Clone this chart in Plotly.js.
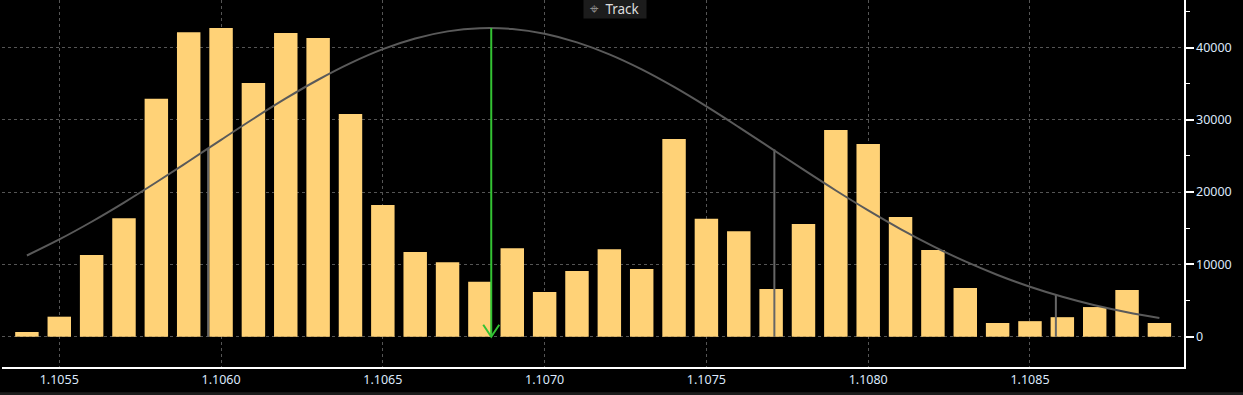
<!DOCTYPE html>
<html>
<head>
<meta charset="utf-8">
<script src="https://cdn.plot.ly/plotly-3.0.1.min.js"></script>
<style>
html,body{margin:0;padding:0;background:#000;}
#chart{width:1243px;height:395px;}
</style>
</head>
<body>
<div id="chart"></div>
<script>
// Price bins (centres) and counts
var binPrices = [1.1054,1.1055,1.1056,1.1057,1.1058,1.1059,1.1060,1.1061,1.1062,1.1063,1.1064,1.1065,1.1066,1.1067,1.1068,1.1069,1.1070,1.1071,1.1072,1.1073,1.1074,1.1075,1.1076,1.1077,1.1078,1.1079,1.1080,1.1081,1.1082,1.1083,1.1084,1.1085,1.1086,1.1087,1.1088,1.1089];
var binCounts = [650,2770,11300,16400,32900,42100,42700,35100,42000,41300,30800,18200,11700,10300,7600,12250,6200,9100,12100,9350,27350,16300,14600,6600,15600,28600,26650,16550,12000,6750,1900,2150,2700,4100,6450,1900];
// Fitted curve read at each bin centre
var curveValues = [11230,13450,15900,18550,21360,24270,27230,30150,32950,35540,37840,39770,41250,42230,42670,42560,41900,40710,39050,36970,34540,31850,28990,26050,23100,20220,17470,14890,12540,10410,8540,6910,5520,4350,3390,2600];
// Mean marker and standard-deviation markers
var meanPrice = 1.106835;
var meanTop = 42700;
var sigmaPrices = [1.10596, 1.10771, 1.10858];
var sigmaTops = [26000, 25900, 5900];
// Axis ticks
var xTickVals = [1.1055,1.1060,1.1065,1.1070,1.1075,1.1080,1.1085];
var xTickText = ["1.1055","1.1060","1.1065","1.1070","1.1075","1.1080","1.1085"];
var yTickVals = [0,10000,20000,30000,40000];
var yTickText = ["0","10000","20000","30000","40000"];

var sx = [], sy = [];
for (var i = 0; i < sigmaPrices.length; i++) {
  sx.push(sigmaPrices[i], sigmaPrices[i], null);
  sy.push(0, sigmaTops[i], null);
}

var labelFont = {family: "Noto Sans, sans-serif", size: 12.5, color: "#dce8fb"};

var traces = [
  {type: "bar", x: binPrices, y: binCounts, width: 0.0000725,
   marker: {color: "#ffd277", line: {width: 0}}, hoverinfo: "skip"},
  {type: "scatter", mode: "lines", x: sx, y: sy,
   line: {color: "#666666", width: 2}, hoverinfo: "skip"},
  {type: "scatter", mode: "lines", x: binPrices, y: curveValues,
   line: {color: "#5a5a5a", width: 2, shape: "spline"}, hoverinfo: "skip"},
  {type: "scatter", mode: "lines", x: [meanPrice, meanPrice], y: [0, meanTop],
   line: {color: "#33c233", width: 2}, hoverinfo: "skip"}
];

var layout = {
  width: 1243, height: 395,
  margin: {l: 2, r: 59, t: 0, b: 28},
  paper_bgcolor: "#000", plot_bgcolor: "#000",
  showlegend: false,
  xaxis: {
    range: [1.105323, 1.108976],
    tickvals: xTickVals, ticktext: xTickText,
    showgrid: true, gridcolor: "#555555", griddash: "dot", gridwidth: 1,
    zeroline: false, showline: true, linecolor: "#ffffff", linewidth: 1.5,
    ticks: "", tickfont: labelFont, fixedrange: true
  },
  yaxis: {
    side: "right",
    range: [-4190, 46570],
    tickvals: yTickVals, ticktext: yTickText,
    showgrid: true, gridcolor: "#555555", griddash: "dot", gridwidth: 1,
    zeroline: false, showline: true, linecolor: "#ffffff", linewidth: 1.5,
    ticks: "outside", ticklen: 8, tickwidth: 2, tickcolor: "#ffffff",
    minor: {dtick: 5000, tick0: 0, ticks: "outside", ticklen: 4, tickwidth: 1, tickcolor: "#ffffff", showgrid: false},
    tickfont: labelFont, fixedrange: true
  },
  shapes: [
    {type: "path", xref: "x", yref: "y", xsizemode: "pixel", ysizemode: "pixel",
     xanchor: meanPrice, yanchor: 0, path: "M -8,12 L 0,0 L 8,12",
     line: {color: "#33c233", width: 2}},
    {type: "rect", xref: "paper", yref: "paper", x0: -0.01, x1: 1.06, y0: -0.0685, y1: -0.08,
     line: {width: 0}, fillcolor: "#1c1c1c", layer: "above"}
  ],
  annotations: [
    {xref: "paper", yref: "paper", x: 0.5186, y: 1, xanchor: "center", yanchor: "top",
     text: "<span style=\"font-family:DejaVu Sans;font-size:15px;color:#8a8a8a\">⌖</span>  Track", showarrow: false, bgcolor: "#1c1c1c",
     font: {family: "Noto Sans, sans-serif", size: 13.5, color: "#dcdcdc"},
     borderpad: 0, width: 62, height: 18, yshift: 1}
  ]
};

Plotly.newPlot("chart", traces, layout, {displayModeBar: false, staticPlot: true});
</script>
</body>
</html>
